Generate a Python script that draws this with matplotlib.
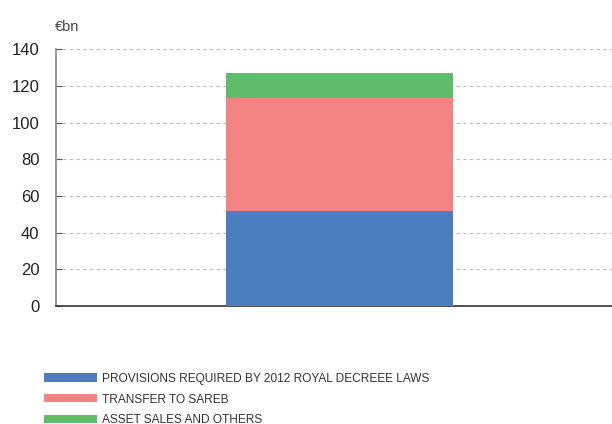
import matplotlib
matplotlib.use("Agg")
import matplotlib.pyplot as plt
from matplotlib.patches import Patch

# Data (EUR bn)
series = ["PROVISIONS REQUIRED BY 2012 ROYAL DECREEE LAWS",
          "TRANSFER TO SAREB",
          "ASSET SALES AND OTHERS"]
values = [51.8, 61.8, 13.5]
colors = ["#4A7EC0", "#F38383", "#5DBD6B"]
yticks = [0, 20, 40, 60, 80, 100, 120, 140]

plt.rcParams['font.family'] = ['Liberation Sans', 'DejaVu Sans']

fig = plt.figure(figsize=(6.12, 4.24), dpi=100)
ax = fig.add_axes([0.0915, 0.278, 0.9085, 0.606])

bottom = 0
for v, c in zip(values, colors):
    ax.bar(0, v, width=0.8, bottom=bottom, color=c, zorder=3)
    bottom += v

ax.set_xlim(-1.0, 0.96)
ax.set_ylim(0, 140)
ax.set_yticks(yticks)
ax.set_xticks([])
ax.tick_params(axis='y', direction='in', length=4, color='#555555',
               labelsize=12, labelcolor='#222222', pad=12)
ax.grid(axis='y', linestyle=(0, (3, 3)), color='#bbbbbb', linewidth=0.8, zorder=0)

for s in ['top', 'right']:
    ax.spines[s].set_visible(False)
ax.spines['left'].set_color('#888888')
ax.spines['left'].set_linewidth(1.2)
ax.spines['bottom'].set_color('#333333')
ax.spines['bottom'].set_linewidth(1.2)

fig.text(0.09, 0.937, "€bn", fontsize=10.5, color='#444444', va='center', ha='left')

handles = [Patch(facecolor=c, edgecolor='none') for c in colors]
fig.legend(handles, series, loc='upper left', bbox_to_anchor=(0.072, 0.121),
           frameon=False, handlelength=4.4, handleheight=0.67,
           handletextpad=0.42, labelspacing=0.74, borderaxespad=0, borderpad=0,
           prop={'size': 8.6}, labelcolor='#333333')

fig.savefig("out.png", dpi=100)
